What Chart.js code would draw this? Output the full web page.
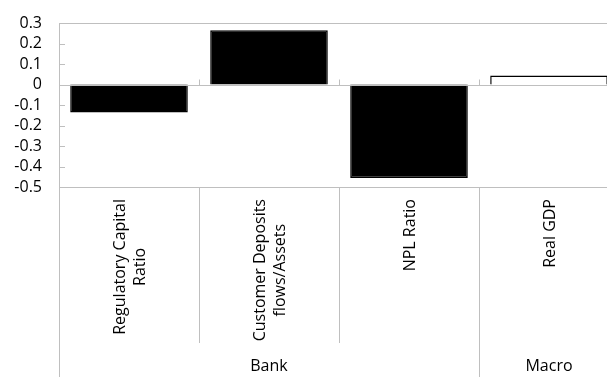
<!DOCTYPE html>
<html>
<head>
<meta charset="utf-8">
<script src="https://cdn.jsdelivr.net/npm/chart.js@4/dist/chart.umd.min.js"></script>
<style>
  html, body { margin: 0; padding: 0; background: #fff; overflow: hidden; }
  #wrap { width: 607px; height: 377px; overflow: hidden; }
  canvas { display: block; }
</style>
</head>
<body>
<div id="wrap"><canvas id="c" width="620" height="377"></canvas></div>
<script>
// Category labels (multi-line), their group, and the bar values
const categories = [
  ['Regulatory Capital', 'Ratio'],
  ['Customer Deposits', 'flows/Assets'],
  ['NPL Ratio'],
  ['Real GDP']
];
const groups = ['Bank', 'Bank', 'Bank', 'Macro'];
const values = [-0.136, 0.265, -0.456, 0.044];
const yTicks = [0.3, 0.2, 0.1, 0, -0.1, -0.2, -0.3, -0.4, -0.5];

const FONT = '"Open Sans", "DejaVu Sans", sans-serif';
const FONT_SIZE = 16;
const LINE = '#bfbfbf';

// Axes, tick marks, category table and group labels
const framePlugin = {
  id: 'frame',
  afterDatasetsDraw(chart) {
    const { ctx, chartArea: a, scales: { x, y } } = chart;
    const H = chart.height;
    const n = categories.length;
    const bound = i => i === 0 ? a.left : (i === n ? a.right : (x.getPixelForValue(i - 1) + x.getPixelForValue(i)) / 2);
    const crisp = v => Math.round(v) + 0.5;

    ctx.save();
    ctx.strokeStyle = LINE;
    ctx.lineWidth = 1;
    ctx.beginPath();
    // top and bottom of plot
    ctx.moveTo(a.left, crisp(a.top)); ctx.lineTo(a.right, crisp(a.top));
    ctx.moveTo(a.left, crisp(a.bottom)); ctx.lineTo(a.right, crisp(a.bottom));
    // value axis and left edge of the label table
    ctx.moveTo(crisp(a.left), a.top); ctx.lineTo(crisp(a.left), H);
    // value ticks (inside)
    yTicks.forEach(t => {
      const py = crisp(y.getPixelForValue(t));
      ctx.moveTo(a.left, py); ctx.lineTo(a.left + 6, py);
    });
    // category axis at zero
    const y0 = crisp(y.getPixelForValue(0));
    ctx.moveTo(a.left, y0); ctx.lineTo(a.right, y0);
    for (let i = 1; i < n; i++) {
      const bx = crisp(bound(i));
      ctx.moveTo(bx, y0); ctx.lineTo(bx, y0 - 6);
    }
    // label table dividers
    for (let i = 1; i < n; i++) {
      const bx = crisp(bound(i));
      const groupEdge = groups[i] !== groups[i - 1];
      ctx.moveTo(bx, a.bottom); ctx.lineTo(bx, groupEdge ? H : a.bottom + 156);
    }
    ctx.stroke();

    // rotated category labels, lines centred on each other
    ctx.fillStyle = '#000';
    ctx.font = FONT_SIZE + 'px ' + FONT;
    const lh = 20;
    categories.forEach((lines, i) => {
      const cx = x.getPixelForValue(i) + 1;
      const maxW = Math.max(...lines.map(s => ctx.measureText(s).width));
      ctx.save();
      ctx.translate(cx, a.bottom + 12);
      ctx.rotate(-Math.PI / 2);
      ctx.textAlign = 'center';
      ctx.textBaseline = 'middle';
      lines.forEach((s, j) => {
        ctx.fillText(s, -maxW / 2, (j - (lines.length - 1) / 2) * lh);
      });
      ctx.restore();
    });

    // group labels
    ctx.textAlign = 'center';
    ctx.textBaseline = 'middle';
    let start = 0;
    for (let i = 1; i <= n; i++) {
      if (i === n || groups[i] !== groups[start]) {
        const gx = (bound(start) + bound(i)) / 2;
        ctx.fillText(groups[start], gx, 366);
        start = i;
      }
    }
    ctx.restore();
  }
};

new Chart(document.getElementById('c'), {
  type: 'bar',
  data: {
    labels: categories,
    datasets: [{
      data: values,
      backgroundColor: ['#000000', '#000000', '#000000', '#ffffff'],
      borderColor: '#000000',
      borderWidth: 1.5,
      barPercentage: 0.84,
      categoryPercentage: 1
    }]
  },
  options: {
    responsive: false,
    animation: false,
    events: [],
    layout: { padding: { top: 23, right: 1, bottom: 190, left: 0 } },
    plugins: { legend: { display: false }, tooltip: { enabled: false }, title: { display: false } },
    scales: {
      x: { display: false },
      y: {
        min: -0.5,
        max: 0.3,
        afterFit(scale) {
          scale.width = 59;
          scale.paddingTop = 0;
          scale.paddingBottom = 0;
        },
        afterBuildTicks(scale) { scale.ticks = yTicks.map(v => ({ value: v })); },
        grid: { display: false, drawTicks: false },
        border: { display: false },
        ticks: {
          autoSkip: false,
          padding: 17,
          color: '#000',
          font: { family: FONT, size: FONT_SIZE },
          callback: v => String(Math.round(v * 10) / 10)
        }
      }
    }
  },
  plugins: [framePlugin]
});
</script>
</body>
</html>
